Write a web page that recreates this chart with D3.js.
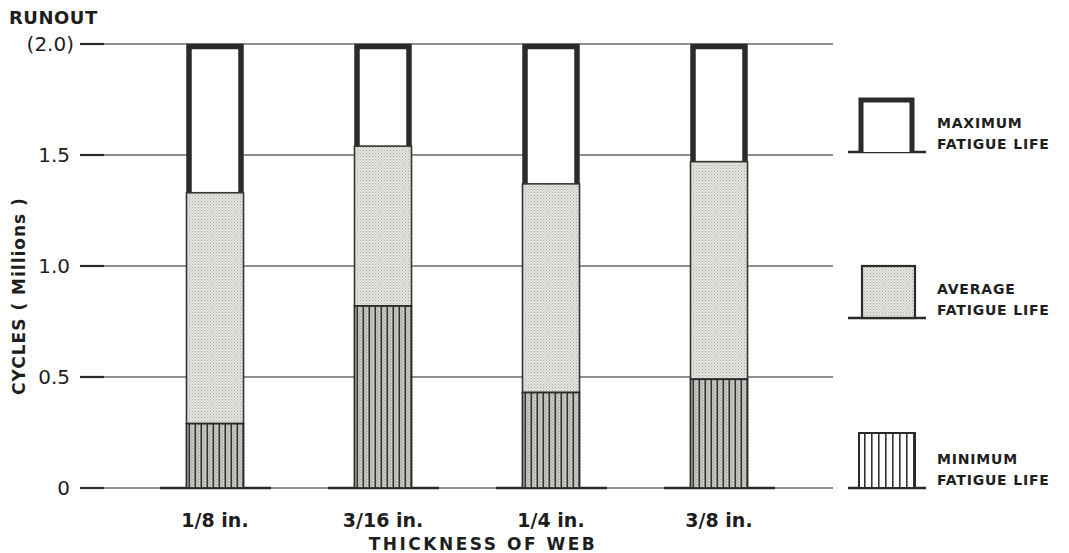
<!DOCTYPE html>
<html><head><meta charset="utf-8">
<script src="https://cdn.jsdelivr.net/npm/d3@7"></script>
<style>
body{margin:0;background:#fff;}
text{font-family:"DejaVu Sans","Liberation Sans",sans-serif;font-weight:bold;fill:#1e1e1e;}
</style></head>
<body><svg id="c" width="1069" height="553"></svg>
<script>
const categories = ["1/8 in.", "3/16 in.", "1/4 in.", "3/8 in."];
const minimumLife = [0.29, 0.82, 0.43, 0.49];
const averageLife = [1.33, 1.54, 1.37, 1.47];
const maximumLife = [2.0, 2.0, 2.0, 2.0];
const yTicks = [0, 0.5, 1.0, 1.5, 2.0];
const yTickLabels = ["0", "0.5", "1.0", "1.5", "(2.0)"];
const legendItems = [["MAXIMUM", "FATIGUE LIFE"], ["AVERAGE", "FATIGUE LIFE"], ["MINIMUM", "FATIGUE LIFE"]];

const svg = d3.select("#c");
const defs = svg.append("defs");
const st = defs.append("pattern").attr("id","stip").attr("patternUnits","userSpaceOnUse").attr("width",3).attr("height",3);
st.append("rect").attr("width",3).attr("height",3).attr("fill","#e6e6e0");
st.append("rect").attr("x",0).attr("y",0).attr("width",1).attr("height",1).attr("fill","#a8a8a4");
st.append("rect").attr("x",1.5).attr("y",1.5).attr("width",1).attr("height",1).attr("fill","#b4b4b0");
const mp = defs.append("pattern").attr("id","vlines").attr("patternUnits","userSpaceOnUse").attr("width",6).attr("height",3);
mp.append("rect").attr("width",6).attr("height",3).attr("fill","#bdbdb8");
mp.append("rect").attr("x",1).attr("y",0).attr("width",1).attr("height",1).attr("fill","#e8e8e4");
mp.append("rect").attr("x",4).attr("y",1.5).attr("width",1).attr("height",1).attr("fill","#e8e8e4");
mp.append("rect").attr("x",2.5).attr("y",0).attr("width",1.6).attr("height",3).attr("fill","#333");
const lp = defs.append("pattern").attr("id","vlinesL").attr("patternUnits","userSpaceOnUse").attr("width",7).attr("height",3);
lp.append("rect").attr("width",7).attr("height",3).attr("fill","#fff");
lp.append("rect").attr("x",3).attr("y",0).attr("width",1.6).attr("height",3).attr("fill","#333");

const y = d3.scaleLinear().domain([0,2]).range([488,44]);
const x = d3.scalePoint().domain(categories).range([215,719]);
const bw = 57;

svg.append("g").selectAll("line").data(yTicks).join("line")
  .attr("x1",80).attr("x2",833).attr("y1",d=>y(d)).attr("y2",d=>y(d))
  .attr("stroke","#6a6a6a").attr("stroke-width",1.3);
svg.append("g").selectAll("line").data(yTicks).join("line")
  .attr("x1",80).attr("x2",104).attr("y1",d=>y(d)).attr("y2",d=>y(d))
  .attr("stroke","#2a2a2a").attr("stroke-width",2.2);
svg.append("g").selectAll("text").data(yTicks).join("text")
  .attr("x",d=> d===2 ? 74 : 70).attr("y",d=>y(d)+7)
  .attr("text-anchor","end").attr("font-size",20).style("font-weight","normal")
  .text((d,i)=>yTickLabels[i]);
svg.append("text").attr("x",9).attr("y",24).attr("font-size",18).attr("letter-spacing",0.5).text("RUNOUT");

svg.append("text").attr("transform","translate(25,296) rotate(-90)").attr("text-anchor","middle")
  .attr("font-size",17).attr("letter-spacing",1).text("CYCLES ( Millions )");

svg.append("g").selectAll("line").data(categories).join("line")
  .attr("x1",d=>x(d)-55).attr("x2",d=>x(d)+56).attr("y1",y(0)).attr("y2",y(0))
  .attr("stroke","#2a2a2a").attr("stroke-width",2.6);

const bars = svg.append("g").selectAll("g").data(categories).join("g");
bars.append("path")
  .attr("d",(d,i)=>{const x0=x(d)-bw/2+2.5,x1=x(d)+bw/2-2.5;return `M${x0},${y(averageLife[i])}V${y(maximumLife[i])+2.5}H${x1}V${y(averageLife[i])}`;})
  .attr("fill","#fff").attr("stroke","#2b2b2b").attr("stroke-width",5.5);
bars.append("rect")
  .attr("x",d=>x(d)-bw/2).attr("width",bw)
  .attr("y",(d,i)=>y(averageLife[i])).attr("height",(d,i)=>y(minimumLife[i])-y(averageLife[i]))
  .attr("fill","url(#stip)").attr("stroke","#333").attr("stroke-width",1.6);
bars.append("rect")
  .attr("x",d=>x(d)-bw/2).attr("width",bw)
  .attr("y",(d,i)=>y(minimumLife[i])).attr("height",(d,i)=>y(0)-y(minimumLife[i]))
  .attr("fill","url(#vlines)").attr("stroke","#2a2a2a").attr("stroke-width",1.8);

svg.append("g").selectAll("text").data(categories).join("text")
  .attr("x",d=>x(d)).attr("y",527).attr("text-anchor","middle").attr("font-size",19)
  .text(d=>d);
svg.append("text").attr("x",483).attr("y",550).attr("text-anchor","middle")
  .attr("font-size",17).attr("letter-spacing",2.5).text("THICKNESS OF WEB");

const legY = [152, 318, 488];
const lg = svg.append("g");
legendItems.forEach((t,i)=>{
  const by = legY[i];
  const g = lg.append("g");
  g.append("line").attr("x1",848).attr("x2",926).attr("y1",by).attr("y2",by).attr("stroke","#2a2a2a").attr("stroke-width",2.6);
  if(i===0){
    g.append("path").attr("d",`M861,${by}V${by-52}H912V${by}`).attr("fill","#fff").attr("stroke","#2b2b2b").attr("stroke-width",5);
  } else if(i===1){
    g.append("rect").attr("x",862).attr("y",by-52).attr("width",53).attr("height",52).attr("fill","url(#stip)").attr("stroke","#2a2a2a").attr("stroke-width",2.2);
  } else {
    g.append("rect").attr("x",859).attr("y",by-55).attr("width",56).attr("height",55).attr("fill","url(#vlinesL)").attr("stroke","#2a2a2a").attr("stroke-width",2);
  }
  g.append("text").attr("x",937).attr("y",by-24).attr("font-size",14).attr("letter-spacing",0.8).text(t[0]);
  g.append("text").attr("x",937).attr("y",by-3).attr("font-size",14).attr("letter-spacing",0.8).text(t[1]);
});
</script></body></html>
